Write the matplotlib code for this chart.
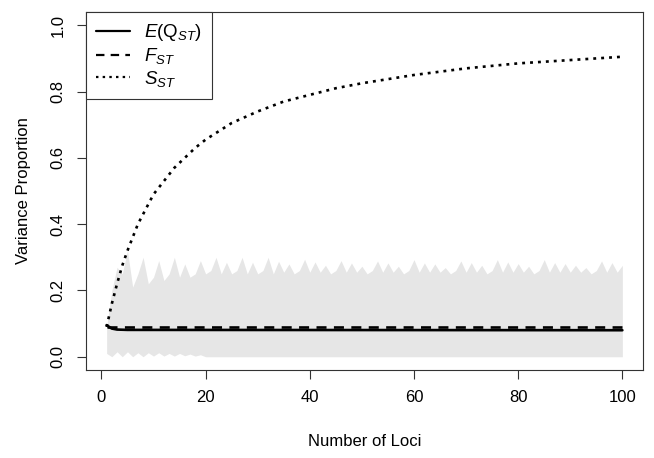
import numpy as np
import matplotlib
matplotlib.use("Agg")
import matplotlib.pyplot as plt

plt.rcParams["font.family"] = ["Liberation Sans", "DejaVu Sans"]
plt.rcParams["mathtext.fontset"] = "custom"
plt.rcParams["mathtext.rm"] = "Liberation Sans"
plt.rcParams["mathtext.it"] = "Liberation Sans:italic"

# band of Q_ST (lower / upper quantile) per number of loci
loci = np.arange(1, 101)
band_upper = [0.09, 0.20, 0.27, 0.25, 0.32, 0.21, 0.25, 0.30, 0.22, 0.24,
              0.29, 0.23, 0.25, 0.30, 0.24, 0.28, 0.24, 0.25, 0.29, 0.25,
              0.26, 0.30, 0.25, 0.285, 0.25, 0.26, 0.30, 0.25, 0.285, 0.25,
              0.26, 0.30, 0.25, 0.288, 0.255, 0.28, 0.25, 0.26, 0.294, 0.255,
              0.286, 0.255, 0.276, 0.25, 0.26, 0.29, 0.255, 0.283, 0.255, 0.273,
              0.25, 0.26, 0.289, 0.255, 0.283, 0.255, 0.273, 0.25, 0.26, 0.293,
              0.255, 0.283, 0.255, 0.28, 0.255, 0.269, 0.25, 0.26, 0.289, 0.255,
              0.284, 0.255, 0.276, 0.25, 0.26, 0.293, 0.255, 0.286, 0.255, 0.281,
              0.255, 0.273, 0.25, 0.26, 0.293, 0.255, 0.284, 0.255, 0.281, 0.255,
              0.276, 0.255, 0.269, 0.25, 0.26, 0.289, 0.255, 0.284, 0.255, 0.276]
band_lower = [0.01, 0.0, 0.015, 0.0, 0.015, 0.0, 0.012, 0.0, 0.012, 0.002,
              0.012, 0.002, 0.01, 0.002, 0.01, 0.003, 0.008, 0.002, 0.006] + [0.0] * 81

# expected Q_ST
q_x = [1, 2, 3, 5, 100]
q_y = [0.095, 0.085, 0.082, 0.081, 0.080]

# F_ST
f_x = [1, 100]
f_y = [0.09, 0.09]

# S_ST
s_x = [1, 2, 3, 4, 5, 6, 7, 8, 9, 10, 12, 14, 16, 18, 20, 25, 30, 35, 40,
       45, 50, 60, 70, 80, 90, 100]
s_y = [0.09, 0.16, 0.22, 0.275, 0.32, 0.36, 0.40, 0.43, 0.46, 0.49, 0.53,
       0.57, 0.60, 0.63, 0.655, 0.705, 0.74, 0.77, 0.79, 0.81, 0.825, 0.85,
       0.87, 0.885, 0.895, 0.905]

fig = plt.figure(figsize=(6.54, 4.58), dpi=100)
ax = fig.add_axes([86/654, 88/458, (643-86)/654, (370-12)/458])

ax.fill_between(loci, band_lower, band_upper, color="#e6e6e6", lw=0)
ax.plot(q_x, q_y, color="black", lw=1.9, solid_capstyle="round", label=r"$\mathit{E}(\mathrm{Q}_{\mathit{ST}})$")
ax.plot(f_x, f_y, color="black", lw=1.9, ls=(0, (3.8, 2.8)), label=r"$\mathit{F}_{\mathit{ST}}$")
ax.plot(s_x, s_y, color="black", lw=1.9, ls=(0, (1.1, 1.9)), label=r"$\mathit{S}_{\mathit{ST}}$")

ax.set_xlim(-2.96, 103.96)
ax.set_ylim(-0.04, 1.04)
ax.set_xticks([0, 20, 40, 60, 80, 100])
ax.set_yticks([0.0, 0.2, 0.4, 0.6, 0.8, 1.0])
ax.set_yticklabels(["0.0", "0.2", "0.4", "0.6", "0.8", "1.0"], rotation=90, va="center")
ax.tick_params(direction="out", length=6.5, width=0.8, labelsize=12, pad=8, color="#333333")
for sp in ax.spines.values():
    sp.set_linewidth(0.8)
    sp.set_color("#333333")

ax.set_xlabel("Number of Loci", fontsize=12, labelpad=21)
ax.set_ylabel("Variance Proportion", fontsize=12, labelpad=14)

leg = ax.legend(loc="upper left", bbox_to_anchor=(0, 1), borderaxespad=0,
                fancybox=False, edgecolor="#333333", framealpha=1, fontsize=13.5,
                handlelength=1.8, handletextpad=0.75, labelspacing=0.15,
                borderpad=0.55)
leg.get_frame().set_linewidth(0.8)
for h in leg.get_lines():
    h.set_linewidth(1.6)

fig.savefig("out.png", dpi=100)
